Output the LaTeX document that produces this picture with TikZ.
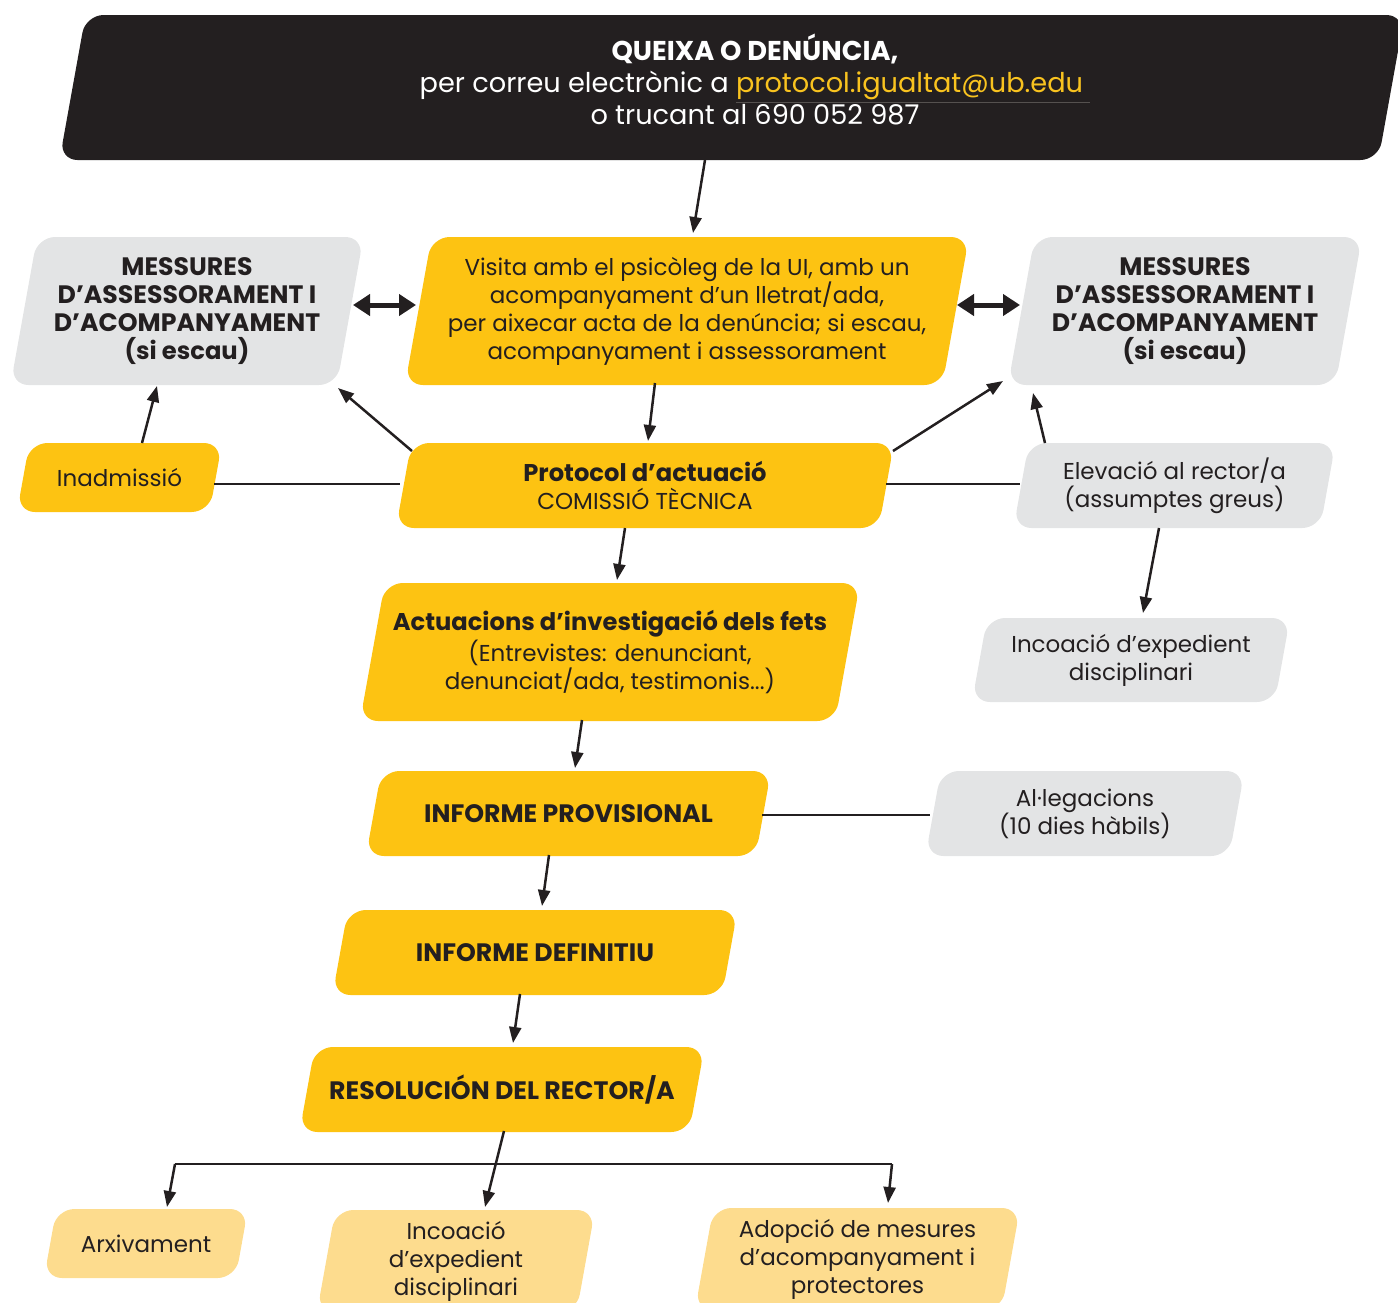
\documentclass[tikz,border=0pt]{standalone}
\usepackage{fontspec}
\setmainfont{Poppins}
\usetikzlibrary{arrows.meta,calc}
\definecolor{ink}{HTML}{231F20}
\definecolor{ubyellow}{HTML}{FDC312}
\definecolor{ubgray}{HTML}{E3E4E5}
\definecolor{ublight}{HTML}{FDDC8E}
\definecolor{mailyel}{HTML}{F9C31F}
\definecolor{ulgray}{HTML}{55514F}
\tikzset{
  boxtext/.style={inner sep=0pt, align=center, text=ink, font=\fontsize{11.5}{14}\selectfont},
  yfill/.style={fill=ubyellow},
  gfill/.style={fill=ubgray},
  lfill/.style={fill=ublight},
  kfill/.style={fill=ink},
  arr/.style={draw=ink, line width=1.25pt, -{Triangle[length=8pt,width=6pt]}},
  link/.style={draw=ink, line width=1.4pt},
  dbl/.style={draw=ink, line width=2.5pt, {Triangle[length=8.5pt,width=10.5pt]}-{Triangle[length=8.5pt,width=10.5pt]}},
}
% #1 name, #2 fill style, #3 cx, #4 cy, #5 total width, #6 height, #7 text (pixel units)
\newcommand\pbox[7]{%
  \fill[#2, rounded corners=9pt]
    ({#3-#5/2},{#4+#6/2}) -- ({#3+#5/2-0.18*#6},{#4+#6/2}) --
    ({#3+#5/2},{#4-#6/2}) -- ({#3-#5/2+0.18*#6},{#4-#6/2}) -- cycle;
  \node[boxtext] (#1) at (#3,#4) {#7};
}
\newcommand\bcap[1]{{\fontsize{12.6}{14}\selectfont\bfseries #1}}
\newcommand\blow[1]{{\fontsize{12.1}{14}\selectfont\bfseries #1}}
\begin{document}
\begin{tikzpicture}[x=0.5pt,y=-0.5pt]
\useasboundingbox (0,0) rectangle (1398,1302);
\clip (0,0) rectangle (1398,1302);
% top box
\pbox{blk}{kfill}{732}{87.5}{1345}{145}{}
\node[font=\fontsize{13.6}{16}\selectfont, text=white, align=center, inner sep=0pt] (blktxt) at (755,79)
  {\textbf{QUEIXA O DENÚNCIA,}\\
   per correu electrònic a \textcolor{ulgray}{\underline{\textcolor{mailyel}{protocol.igualtat@ub.edu\ }}}\\
   o trucant al 690 052 987};
% row 1
\pbox{lm}{gfill}{187}{311}{353}{148}{\bcap{MESSURES}\\\bcap{D’ASSESSORAMENT I}\\\bcap{D’ACOMPANYAMENT}\\\blow{(si escau)}}
\pbox{vis}{yfill}{687}{311}{564}{148}{Visita amb el psicòleg de la UI, amb un\\acompanyament d’un lletrat/ada,\\per aixecar acta de la denúncia; si escau,\\acompanyament i assessorament}
\pbox{rm}{gfill}{1185}{311}{354}{148}{\bcap{MESSURES}\\\bcap{D’ASSESSORAMENT I}\\\bcap{D’ACOMPANYAMENT}\\\blow{(si escau)}}
% row 2
\pbox{inad}{yfill}{119.5}{477.5}{205}{69}{Inadmissió}
\pbox{prot}{yfill}{645}{485.5}{498}{85}{\blow{Protocol d’actuació}\\COMISSIÓ TÈCNICA}
\pbox{elev}{gfill}{1174.5}{485.5}{322}{85}{Elevació al rector/a\\(assumptes greus)}
% row 3
\pbox{act}{yfill}{610}{652}{500}{138}{\blow{Actuacions d’investigació dels fets}\\(Entrevistes: denunciant,\\denunciat/ada, testimonis...)}
\pbox{incR}{gfill}{1131}{660}{318}{84}{Incoació d’expedient\\disciplinari}
% row 4
\pbox{prov}{yfill}{568.5}{813.5}{405}{85}{\bcap{INFORME PROVISIONAL}}
\pbox{alleg}{gfill}{1085}{813.5}{319}{85}{Al·legacions\\(10 dies hàbils)}
% row 5,6
\pbox{def}{yfill}{535}{952.5}{405}{85}{\bcap{INFORME DEFINITIU}}
\pbox{res}{yfill}{502}{1089.5}{405}{85}{\bcap{RESOLUCIÓN DEL RECTOR/A}}
% bottom row
\pbox{arx}{lfill}{146}{1243.5}{204}{69}{Arxivament}
\pbox{incB}{lfill}{456}{1261}{278}{102}{Incoació\\d’expedient\\disciplinari}
\pbox{adop}{lfill}{857.5}{1259}{325}{102}{Adopció de mesures\\d’acompanyament i\\protectores}
% connectors
\draw[arr] ($(blk.center)+(-27,72.5)$) -- ($(vis.center)+(6,-78)$);
\draw[dbl] ($(lm.center)+(166,-6)$) -- ($(vis.center)+(-271,-6)$);
\draw[dbl] ($(vis.center)+(270,-6)$) -- ($(rm.center)+(-165,-6)$);
\draw[arr] ($(vis.center)+(-32,72)$) -- ($(prot.center)+(3,-44.5)$);
\draw[arr] ($(inad.center)+(22.5,-34.5)$) -- ($(lm.center)+(-30,75)$);
\draw[arr] ($(prot.center)+(-233,-34.5)$) -- ($(lm.center)+(151,77)$);
\draw[arr] ($(prot.center)+(248,-34.5)$) -- ($(rm.center)+(-182,70)$);
\draw[arr] ($(elev.center)+(-129.5,-42.5)$) -- ($(rm.center)+(-152,82)$);
\draw[link] ($(inad.center)+(94.5,6.5)$) -- ($(prot.center)+(-245,-1.5)$);
\draw[link] ($(prot.center)+(241,-1.5)$) -- ($(elev.center)+(-154.5,-1.5)$);
\draw[arr] ($(prot.center)+(-20,42.5)$) -- ($(act.center)+(7,-72)$);
\draw[arr] ($(elev.center)+(-15.5,42.5)$) -- ($(incR.center)+(12,-47)$);
\draw[arr] ($(act.center)+(-28,68)$) -- ($(prov.center)+(6.5,-45.5)$);
\draw[link] ($(prov.center)+(193.5,1.5)$) -- ($(alleg.center)+(-155,1.5)$);
\draw[arr] ($(prov.center)+(-19.5,41.5)$) -- ($(def.center)+(7,-46.5)$);
\draw[arr] ($(def.center)+(-15,41.5)$) -- ($(res.center)+(11,-46.5)$);
\draw[arr] ($(res.center)+(2,41.5)$) -- ($(incB.center)+(29,-54)$);
\coordinate (bl) at ($(res.center)+(-327,74.5)$);
\coordinate (br) at ($(res.center)+(390,74.5)$);
\draw[link] (bl) -- (br);
\draw[arr] (bl) -- ($(arx.center)+(21,-36.5)$);
\draw[arr] (br) -- ($(adop.center)+(30.5,-56)$);
\end{tikzpicture}
\end{document}
